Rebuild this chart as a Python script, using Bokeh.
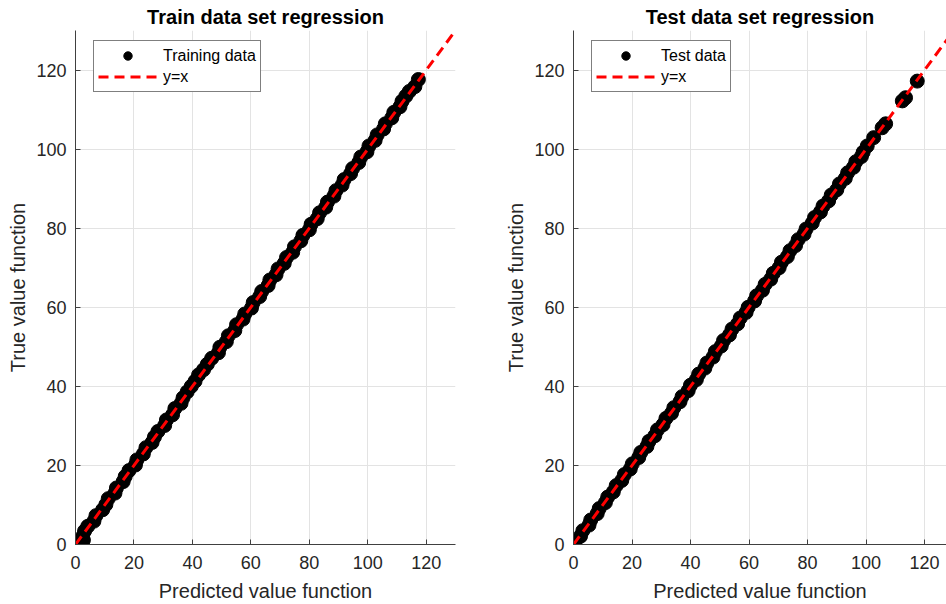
from bokeh.plotting import figure
from bokeh.layouts import row
from bokeh.models import ColumnDataSource, FixedTicker, Legend, LegendItem, Range1d
from bokeh.embed import file_html
from bokeh.resources import INLINE

# Training set: predicted vs true values
train_pred = [0.6, 1.9, 2.7, 2.4, 3.1, 4.2, 6.3, 7.0, 9.3, 10.4,
              11.2, 13.5, 14.0, 16.3, 17.0, 18.3, 20.5, 21.0, 23.2, 24.1,
              26.2, 27.0, 28.2, 30.5, 31.1, 33.2, 34.0, 36.1, 36.8, 38.2,
              39.6, 40.9, 42.1, 43.8, 45.1, 46.6, 48.9, 49.4, 51.6, 52.3,
              54.5, 55.1, 57.3, 57.9, 60.2, 60.8, 63.0, 63.7, 65.9, 66.5,
              68.6, 69.3, 71.4, 72.2, 74.3, 74.9, 77.1, 77.8, 80.0, 80.6,
              82.7, 83.5, 85.6, 86.2, 88.4, 89.1, 91.2, 91.9, 94.1, 94.8,
              96.9, 97.6, 99.7, 100.4, 102.5, 103.2, 105.4, 106.0, 108.2, 108.9,
              111.0, 111.7, 113.0, 114.2, 116.1, 117.3]
train_true = [0.2, 0.5, 1.1, 2.0, 3.4, 4.6, 5.9, 7.3, 8.8, 10.1,
              11.6, 13.0, 14.3, 15.9, 17.2, 18.7, 20.1, 21.4, 22.9, 24.5,
              25.8, 27.2, 28.6, 30.1, 31.5, 32.8, 34.4, 35.7, 37.1, 38.6,
              40.0, 41.3, 42.9, 44.2, 45.6, 47.1, 48.5, 49.9, 51.3, 52.8,
              54.1, 55.6, 57.0, 58.3, 59.8, 61.2, 62.7, 64.0, 65.5, 66.9,
              68.2, 69.7, 71.1, 72.6, 73.9, 75.3, 76.8, 78.2, 79.6, 81.0,
              82.4, 83.9, 85.3, 86.6, 88.1, 89.5, 90.9, 92.3, 93.8, 95.1,
              96.6, 98.0, 99.3, 100.8, 102.2, 103.6, 105.1, 106.4, 107.9, 109.3,
              110.7, 112.1, 113.4, 114.6, 115.8, 117.6]

# Test set: predicted vs true values
test_pred = [0.3, 0.6, 2.4, 3.2, 5.3, 5.9, 8.1, 8.8, 10.9, 11.7,
             13.6, 14.6, 16.5, 17.4, 19.4, 20.1, 22.3, 23.0, 25.1, 25.8,
             27.8, 28.7, 30.6, 31.6, 33.5, 34.3, 36.4, 37.1, 39.2, 40.0,
             42.0, 42.8, 44.9, 45.6, 47.7, 48.5, 50.5, 51.3, 53.3, 54.2,
             56.1, 57.0, 59.0, 59.7, 61.9, 62.6, 64.6, 65.5, 67.4, 68.3,
             70.3, 71.1, 73.1, 74.0, 75.9, 76.8, 78.8, 79.5, 81.6, 82.4,
             84.4, 85.3, 87.2, 88.1, 90.0, 90.9, 92.9, 93.7, 95.7, 96.5,
             98.4, 99.0, 100.4, 102.6, 105.5, 106.7, 112.4, 113.5, 117.5]
test_true = [0.1, 0.8, 2.1, 3.5, 4.9, 6.2, 7.8, 9.1, 10.6, 12.0,
             13.3, 14.9, 16.2, 17.7, 19.1, 20.4, 22.0, 23.3, 24.8, 26.1,
             27.5, 29.0, 30.3, 31.9, 33.2, 34.6, 36.1, 37.4, 38.9, 40.3,
             41.7, 43.1, 44.6, 45.9, 47.4, 48.8, 50.2, 51.6, 53.0, 54.5,
             55.8, 57.3, 58.7, 60.0, 61.6, 62.9, 64.3, 65.8, 67.1, 68.6,
             70.0, 71.4, 72.8, 74.3, 75.6, 77.1, 78.5, 79.8, 81.3, 82.7,
             84.1, 85.6, 86.9, 88.4, 89.7, 91.2, 92.6, 94.0, 95.4, 96.8,
             98.1, 99.2, 100.8, 102.9, 105.4, 106.4, 112.2, 113.0, 117.2]

# Reference identity line y = x
ident = [0, 130]
ticks = [0, 20, 40, 60, 80, 100, 120]

FONT = "Liberation Sans"
TEXT = "#262626"


def make_panel(title, pred, true, data_label, x_end, frame_w, right_border):
    p = figure(frame_width=frame_w, frame_height=514,
               x_range=Range1d(0, x_end), y_range=Range1d(0, 130),
               output_backend="svg", toolbar_location=None,
               min_border_left=75, min_border_right=right_border,
               min_border_top=30, min_border_bottom=60,
               background_fill_color="white", border_fill_color="white")
    p.outline_line_color = None

    p.title.text = title
    p.title.align = "center"
    p.title.text_font = FONT
    p.title.text_font_size = "20px"
    p.title.text_font_style = "bold"
    p.title.text_color = "black"
    p.title.standoff = 6

    for ax in (p.xaxis[0], p.yaxis[0]):
        ax.ticker = FixedTicker(ticks=ticks)
        ax.minor_tick_line_color = None
        ax.major_tick_in = 5
        ax.major_tick_out = 0
        ax.axis_line_color = "#404040"
        ax.major_tick_line_color = "#404040"
        ax.major_label_text_font = FONT
        ax.major_label_text_font_size = "18px"
        ax.major_label_text_color = TEXT
        ax.major_label_standoff = 9
        ax.axis_label_text_font = FONT
        ax.axis_label_text_font_size = "20px"
        ax.axis_label_text_font_style = "normal"
        ax.axis_label_text_color = TEXT
        ax.axis_label_standoff = 6
    p.xaxis[0].major_label_standoff = 11
    p.xaxis[0].axis_label_standoff = 8
    p.yaxis[0].axis_label_standoff = 4
    p.xaxis.axis_label = "Predicted value function"
    p.yaxis.axis_label = "True value function"

    for g in (p.xgrid[0], p.ygrid[0]):
        g.ticker = FixedTicker(ticks=ticks)
        g.grid_line_color = "#e3e3e3"
        g.grid_line_width = 1

    src = ColumnDataSource(dict(x=pred, y=true))
    pts = p.scatter("x", "y", source=src, size=14, marker="circle",
                    fill_color="black", line_color="black", line_width=1)
    ln = p.line(ident, ident, line_color="#ff0000", line_width=3,
                line_dash="10 6")

    leg = Legend(items=[LegendItem(label=data_label, renderers=[pts]),
                        LegendItem(label="y=x", renderers=[ln])],
                 location=(18, 514 - 12 - 50))
    leg.label_text_font = FONT
    leg.label_text_font_size = "16px"
    leg.label_text_color = "black"
    leg.glyph_width = 59
    leg.glyph_height = 21
    leg.label_height = 21
    leg.label_standoff = 6
    leg.padding = 4
    leg.spacing = 0
    leg.margin = 0
    leg.border_line_color = "black"
    leg.border_line_width = 1
    leg.background_fill_color = "white"
    leg.background_fill_alpha = 1
    p.add_layout(leg)
    return p


p1 = make_panel("Train data set regression", train_pred, train_true,
                "Training data", 130, 380, 43)
p2 = make_panel("Test data set regression", test_pred, test_true,
                "Test data", 127.5, 373, 0)

layout = row(p1, p2)
open("out.html", "w").write(file_html(layout, INLINE))
